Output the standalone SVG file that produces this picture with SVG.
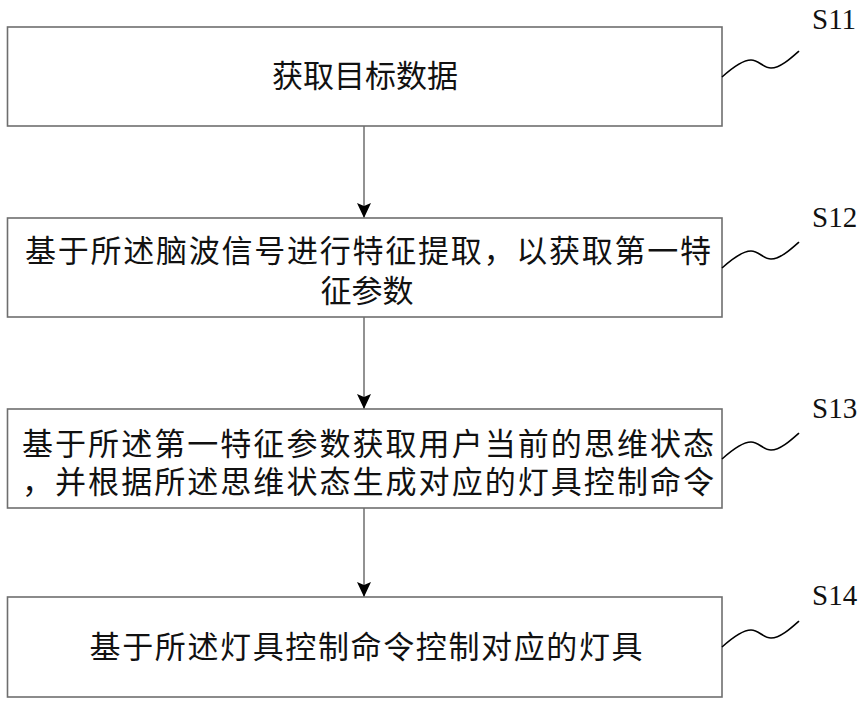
<svg xmlns="http://www.w3.org/2000/svg" width="866" height="705" viewBox="0 0 866 705">
<style>
.box{fill:#fff;stroke:#6e6e6e;stroke-width:1.6}
.t{font-family:"Liberation Serif","Noto Sans CJK SC",serif;font-size:31px;fill:#111;text-anchor:middle}
.lbl{font-family:"Liberation Serif",serif;font-size:29px;fill:#111}
.sq{fill:none;stroke:#000;stroke-width:1.6}
.conn{fill:none;stroke:#777;stroke-width:1.6}
</style>
<defs>
<marker id="ah" markerWidth="15" markerHeight="14" refX="15" refY="7" orient="auto" markerUnits="userSpaceOnUse">
<path d="M0,0 L15,7 L0,14 L3,7 Z" fill="#000"/>
</marker>
<path id="wave" d="M0 0 C10 -9 20 -17 29 -17 C37 -17 41 -9 49 -9 C58 -9 68 -18 77 -26"/>
</defs>
<rect width="866" height="705" fill="#fff"/>
<g id="connectors">
<path class="conn" d="M364 126 V218" marker-end="url(#ah)"/>
<path class="conn" d="M364 317 V409" marker-end="url(#ah)"/>
<path class="conn" d="M364 508 V597" marker-end="url(#ah)"/>
</g>
<g id="S11">
<rect class="box" x="7.5" y="27" width="714.5" height="99"/>
<text class="t" x="365" y="87">获取目标数据</text>
<use href="#wave" class="sq" x="722" y="77"/>
<text class="lbl" x="812" y="29">S11</text>
</g>
<g id="S12">
<rect class="box" x="7.5" y="218" width="714.5" height="99"/>
<text class="t" x="368" y="262" textLength="686" lengthAdjust="spacing">基于所述脑波信号进行特征提取，以获取第一特</text>
<text class="t" x="367" y="302">征参数</text>
<use href="#wave" class="sq" x="722" y="268"/>
<text class="lbl" x="812" y="227">S12</text>
</g>
<g id="S13">
<rect class="box" x="7.5" y="409" width="714.5" height="99"/>
<text class="t" x="368" y="455" textLength="692" lengthAdjust="spacing">基于所述第一特征参数获取用户当前的思维状态</text>
<text class="t" x="368" y="493" textLength="692" lengthAdjust="spacing">，并根据所述思维状态生成对应的灯具控制命令</text>
<use href="#wave" class="sq" x="722" y="459"/>
<text class="lbl" x="812" y="418">S13</text>
</g>
<g id="S14">
<rect class="box" x="7.5" y="597" width="714.5" height="100"/>
<text class="t" x="366" y="658" textLength="553" lengthAdjust="spacing">基于所述灯具控制命令控制对应的灯具</text>
<use href="#wave" class="sq" x="722" y="647"/>
<text class="lbl" x="812" y="605">S14</text>
</g>
</svg>
